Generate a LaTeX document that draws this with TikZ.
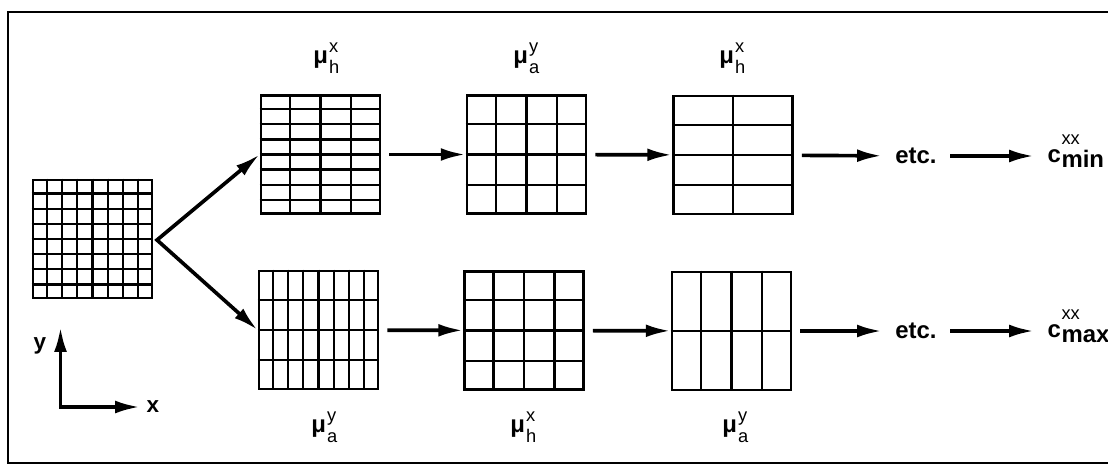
\documentclass[tikz,border=0pt]{standalone}
\usepackage{fontspec}
\setmainfont{Liberation Sans}
\usetikzlibrary{arrows.meta,calc,positioning}

\newcommand{\smallfont}{\fontsize{13}{14}\selectfont\mdseries}
\newcommand{\mulabel}[2]{μ\hspace{0.05em}\makebox[0pt][l]{\raisebox{0.42em}{\smallfont #1}}\raisebox{-0.42em}{\smallfont #2}}
\newcommand{\climit}[2]{c\hspace{0.03em}\makebox[0pt][l]{\raisebox{0.72em}{\fontsize{13}{14}\selectfont\mdseries #1}}\raisebox{-0.25em}{#2}}
\newcommand{\gridlines}[3]{%
  \pgfmathtruncatemacro{\nc}{#2-1}\pgfmathtruncatemacro{\nr}{#3-1}%
  \foreach \k in {1,...,\nc}
    \draw[meshline] ($(#1.north west)!\k/#2!(#1.north east)$) -- ($(#1.south west)!\k/#2!(#1.south east)$);
  \foreach \k in {1,...,\nr}
    \draw[meshline] ($(#1.north west)!\k/#3!(#1.south west)$) -- ($(#1.north east)!\k/#3!(#1.south east)$);
}

\tikzset{
  mesh/.style={draw, line width=2pt, minimum width=2.975cm, minimum height=2.95cm, inner sep=0pt},
  meshline/.style={line width=1.7pt},
  flow/.style={line width=2.6pt, -{Latex[length=0.62cm,width=0.32cm]}},
  twoway/.style={line width=2.6pt, {Latex[length=0.62cm,width=0.32cm]}-{Latex[length=0.62cm,width=0.32cm]}},
  tag/.style={anchor=base west, inner sep=0pt},
  word/.style={inner sep=0.33cm},
}

\begin{document}
\begin{tikzpicture}[x=0.025cm, y=-0.025cm, font=\fontsize{17}{20}\selectfont\bfseries]
  \useasboundingbox (0,0) rectangle (1108,466);
  \draw[line width=1.8pt] (1108,12) -- (8,12) -- (8,463) -- (1108,463);

  % starting mesh
  \node[mesh] (g0) at (92.5,239) {};
  \gridlines{g0}{8}{8}

  % upper branch
  \node[mesh] (t1) at (320.5,154.5) {};
  \gridlines{t1}{4}{8}
  \node[mesh] (t2) at (526.5,154.5) {};
  \gridlines{t2}{4}{4}
  \node[mesh] (t3) at (733,155) {};
  \gridlines{t3}{2}{4}

  % lower branch
  \node[mesh] (b1) at (318.5,330) {};
  \gridlines{b1}{8}{4}
  \node[mesh] (b2) at (524,330.5) {};
  \gridlines{b2}{4}{4}
  \node[mesh] (b3) at (731.5,331) {};
  \gridlines{b3}{4}{2}

  \node[tag] (lt1) at (313,63) {\mulabel{x}{h}};
  \node[tag] (lt2) at (513,63) {\mulabel{y}{a}};
  \node[tag] (lt3) at (719,63) {\mulabel{x}{h}};
  \node[tag] (lb1) at (311,432) {\mulabel{y}{a}};
  \node[tag] (lb2) at (510,432) {\mulabel{x}{h}};
  \node[tag] (lb3) at (722,432) {\mulabel{y}{a}};

  \node[word] (e1) at (916,156) {etc.};
  \node[word, anchor=base west] (c1) at (1034,162) {\climit{xx}{min}};
  \node[word] (e2) at (916,331) {etc.};
  \node[word, anchor=base west] (c2) at (1034,337) {\climit{xx}{max}};

  \coordinate (fork) at (157,240);
  \draw[twoway] (t1.west) -- (fork) -- (b1.west);

  \draw[flow, shorten <=0.2cm] (t1) -- (t2);
  \draw[flow, shorten <=0.2cm] (t2) -- (t3);
  \draw[flow, shorten <=0.2cm] (t3) -- (e1);
  \draw[flow] (e1.east) -- (e1.east -| c1.west);
  \draw[flow, shorten <=0.2cm] (b1) -- (b2);
  \draw[flow, shorten <=0.2cm] (b2) -- (b3);
  \draw[flow, shorten <=0.2cm] (b3) -- (e2);
  \draw[flow] (e2.east) -- (e2.east -| c2.west);

  % axes
  \coordinate (origin) at (60.5,407);
  \coordinate (yend) at (60.5,327);
  \coordinate (xend) at (140,407);
  \draw[twoway] (yend) -- (origin) -- (xend);
  \node[font=\fontsize{16}{19}\selectfont\bfseries] (ylab) at (40,346) {y};
  \node[font=\fontsize{16}{19}\selectfont\bfseries] (xlab) at (153,407) {x};
\end{tikzpicture}
\end{document}
